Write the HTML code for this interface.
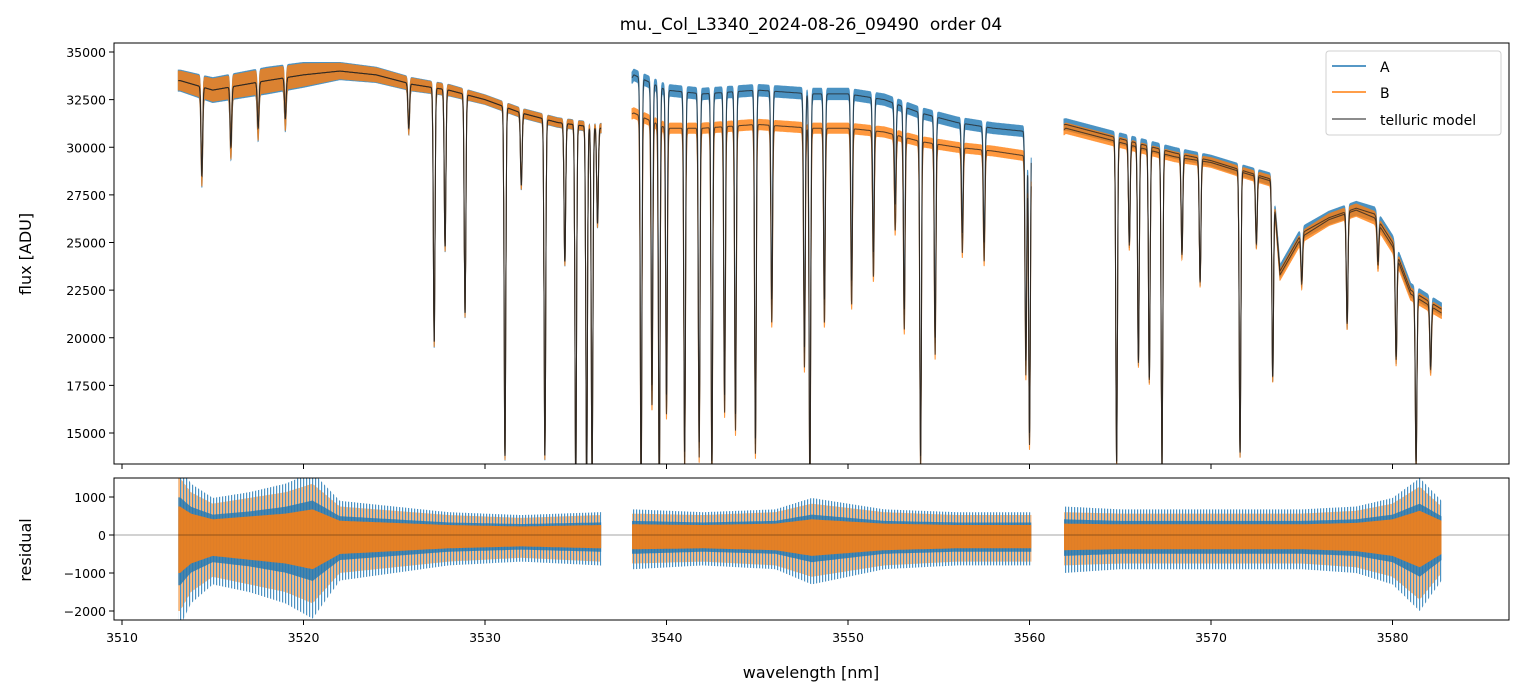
<!DOCTYPE html>
<html><head><meta charset="utf-8"><style>
body{margin:0;background:#fff;}
svg{display:block;font-family:"DejaVu Sans","Liberation Sans",sans-serif;}
</style></head><body>
<svg id="chart" width="1523" height="696" viewBox="0 0 1523 696">
<rect width="1523" height="696" fill="#fff"/>
<defs>
<clipPath id="ctop"><rect x="114" y="43" width="1395" height="421"/></clipPath>
<clipPath id="cbot"><rect x="114" y="478" width="1395" height="142"/></clipPath>
<pattern id="pa" width="3" height="4" patternUnits="userSpaceOnUse"><rect width="1.2" height="4" fill="#1f77b4"/></pattern>
<pattern id="pb" width="3" height="4" patternUnits="userSpaceOnUse"><rect x="1.5" width="1.2" height="4" fill="#ff7f0e"/></pattern>
</defs>
<text x="811" y="30" text-anchor="middle" font-size="17">mu._Col_L3340_2024-08-26_09490&#160; order 04</text>
<g id="topPanel" clip-path="url(#ctop)"></g>
<g id="botPanel" clip-path="url(#cbot)"></g>
<g id="axes"></g>
<text x="31" y="254" font-size="16" text-anchor="middle" transform="rotate(-90 31 254)">flux [ADU]</text>
<text x="31" y="550" font-size="16" text-anchor="middle" transform="rotate(-90 31 550)">residual</text>
<text x="811" y="678" font-size="16" text-anchor="middle">wavelength [nm]</text>
<g>
<rect x="1326" y="51" width="175" height="84" rx="3" fill="#fff" stroke="#ccc" opacity="0.9"/>
<line x1="1332" y1="66" x2="1366" y2="66" stroke="#1f77b4" stroke-width="1.5"/>
<text x="1380" y="72" font-size="14">A</text>
<line x1="1332" y1="92" x2="1366" y2="92" stroke="#ff7f0e" stroke-width="1.5"/>
<text x="1380" y="98" font-size="14">B</text>
<line x1="1332" y1="119" x2="1366" y2="119" stroke="#666" stroke-width="1.5"/>
<text x="1380" y="125" font-size="14">telluric model</text>
</g>
</svg>
<script>
const segments=[[3513.1,3536.4],[3538.1,3560.1],[3561.9,3582.7]];
const contWaveA=[3513.2,3515,3518,3520,3522,3524,3526,3528,3530,3532,3534,3536.4,3538.2,3540,3542,3545,3548,3550,3552,3554,3556,3558,3560.1,3562,3564,3566,3568,3570,3572,3573.4,3573.8,3575,3576.5,3578,3579,3580,3581,3582.7];
const contFluxA=[33500,33000,33500,33800,34000,33800,33300,33000,32500,31800,31300,31000,33800,33000,32800,33000,32800,32800,32500,31800,31300,31000,30800,31200,30700,30200,29700,29300,28700,28300,23500,25500,26300,26800,26500,25000,22500,21500];
const contFluxB=[33500,33000,33500,33800,34000,33800,33300,33000,32500,31800,31300,31000,31800,31000,31000,31200,31000,31000,30800,30300,30000,29800,29500,31000,30500,30000,29500,29200,28600,28200,23300,25300,26200,26700,26300,24800,22300,21300];
const lineWave=[3514.4,3516.0,3517.5,3519.0,3525.8,3527.2,3527.8,3528.9,3531.1,3532.0,3533.3,3534.4,3535.0,3535.6,3535.9,3536.2,3538.6,3539.2,3539.6,3540.0,3541.0,3541.8,3542.5,3543.2,3543.8,3544.9,3545.8,3547.6,3547.9,3548.7,3550.2,3551.4,3552.6,3553.1,3554.0,3554.8,3556.3,3557.5,3559.8,3560.0,3564.8,3565.5,3566.0,3566.6,3567.3,3568.4,3569.4,3571.6,3572.5,3573.4,3575.0,3577.5,3579.2,3580.2,3581.3,3582.1];
const lineMin=[28500,30000,31000,31500,31000,19800,24800,21300,13800,28000,13800,24000,12500,12500,12500,26000,12500,17500,12500,17000,14000,14500,13500,17000,16000,14700,22000,19500,12500,22000,23000,24500,27000,21500,13800,20000,25500,25000,18800,15000,13500,25000,18800,17900,13300,24500,23000,14000,25000,18000,23000,20800,24000,19000,13500,18500];
const noiseWave=[3513.2,3515,3518,3520,3522,3526,3530,3536.4,3538.2,3545,3550,3560.1,3561.9,3570,3575,3580,3582.7];
const noiseAmp=[550,650,700,650,450,350,250,250,300,300,300,280,300,280,320,380,320];
const resWave=[3513.2,3513.8,3515,3517,3519,3520.5,3522,3525,3528,3532,3536.3,3538.2,3542,3546,3548,3552,3556,3560.1,3561.9,3565,3570,3575,3578,3580,3581.5,3582.7];
const resAmpA=[2400,1800,1300,1500,1800,2200,1200,1000,800,700,800,900,800,900,1300,900,800,800,1000,900,900,900,1000,1300,2000,1200];
const resAmpB=[2000,1500,1100,1300,1500,1800,1000,850,700,600,700,750,700,800,1100,800,700,700,800,750,750,750,850,1100,1700,1000];
const xTicks=[3510,3520,3530,3540,3550,3560,3570,3580];
const yTicksTop=[15000,17500,20000,22500,25000,27500,30000,32500,35000];
const yTicksBot=[-2000,-1000,0,1000];

const NS='http://www.w3.org/2000/svg';
const X=w=>122+(w-3510)*18.15;
const YT=f=>52+(35000-f)*0.01905;
const YB=r=>535-r*0.038;
function interp(xs,ys,x){if(x<=xs[0])return ys[0];for(let i=1;i<xs.length;i++){if(x<=xs[i]){const t=(x-xs[i-1])/(xs[i]-xs[i-1]);return ys[i-1]+t*(ys[i]-ys[i-1]);}}return ys[ys.length-1];}
function model(w,cw,cf){const c=interp(cw,cf,w);let m=c;for(let i=0;i<lineWave.length;i++){const d=w-lineWave[i];if(Math.abs(d)<0.35){const depth=Math.max(0,1-lineMin[i]/interp(contWaveA,contFluxA,lineWave[i]));m*=(1-depth*Math.exp(-d*d/(2*0.045*0.045)));}}return m;}
function mk(tag,attrs,parent){const e=document.createElementNS(NS,tag);for(const k in attrs)e.setAttribute(k,attrs[k]);parent.appendChild(e);return e;}
const topG=document.getElementById('topPanel'),botG=document.getElementById('botPanel'),axG=document.getElementById('axes');
function specPath(cf){let d='';segments.forEach(s=>{let first=true;for(let w=s[0];w<=s[1];w+=0.006){d+=(first?'M':'L')+X(w).toFixed(1)+','+YT(model(w,contWaveA,cf)).toFixed(1);first=false;}});return d;}
function noiseBand(cf,scale){let d='';segments.forEach(s=>{const up=[],lo=[];for(let w=s[0];w<=s[1];w+=0.006){const m=model(w,contWaveA,cf);const a=interp(noiseWave,noiseAmp,w)*scale;up.push(X(w).toFixed(1)+','+YT(m+a).toFixed(1));lo.push(X(w).toFixed(1)+','+YT(m-a).toFixed(1));}d+='M'+up.join('L')+'L'+lo.reverse().join('L')+'Z';});return d;}
const pA=mk('path',{d:noiseBand(contFluxA,1),fill:'#1f77b4',stroke:'#1f77b4','stroke-width':1,opacity:0.8},topG);


const pB=mk('path',{d:noiseBand(contFluxB,0.9),fill:'#ff7f0e',stroke:'#ff7f0e','stroke-width':1,opacity:0.8},topG);


const mA=mk('path',{d:specPath(contFluxA),fill:'none',stroke:'#222','stroke-width':1,opacity:0.75},topG);


const mB=mk('path',{d:specPath(contFluxB),fill:'none',stroke:'#222','stroke-width':1,opacity:0.75},topG);


function band(amp,scale){let d='';segments.forEach(s=>{const up=[],lo=[];for(let w=s[0];w<=s[1];w+=0.1){const a=interp(resWave,amp,w)*scale;up.push(X(w).toFixed(1)+','+YB(a*0.75).toFixed(1));lo.push(X(w).toFixed(1)+','+YB(-a).toFixed(1));}d+='M'+up.join('L')+'L'+lo.reverse().join('L')+'Z';});return d;}
const rAo=mk('path',{d:band(resAmpA,1),fill:'url(#pa)',opacity:0.8},botG);


const rBo=mk('path',{d:band(resAmpB,1),fill:'url(#pb)',opacity:0.8},botG);


const rA=mk('path',{d:band(resAmpA,0.55),fill:'#1f77b4',opacity:0.8},botG);


const rB=mk('path',{d:band(resAmpB,0.5),fill:'#ff7f0e',opacity:0.85},botG);


mk('line',{x1:114,x2:1509,y1:YB(0),y2:YB(0),stroke:'#000','stroke-width':0.6,opacity:0.7},botG);
mk('rect',{x:114,y:43,width:1395,height:421,fill:'none',stroke:'#000','stroke-width':1},axG);
mk('rect',{x:114,y:478,width:1395,height:142,fill:'none',stroke:'#000','stroke-width':1},axG);
xTicks.forEach(t=>{const x=X(t);mk('line',{x1:x,x2:x,y1:464,y2:469,stroke:'#000'},axG);mk('line',{x1:x,x2:x,y1:620,y2:625,stroke:'#000'},axG);const tx=mk('text',{x:x,y:642,'font-size':12.5,'text-anchor':'middle'},axG);tx.textContent=t;

});
yTicksTop.forEach(t=>{const y=YT(t);mk('line',{x1:109,x2:114,y1:y,y2:y,stroke:'#000'},axG);const tx=mk('text',{x:106,y:y+5,'font-size':12.5,'text-anchor':'end'},axG);tx.textContent=t;

});
yTicksBot.forEach(t=>{const y=YB(t);mk('line',{x1:109,x2:114,y1:y,y2:y,stroke:'#000'},axG);const tx=mk('text',{x:106,y:y+5,'font-size':12.5,'text-anchor':'end'},axG);tx.textContent=t===0?'0':(t<0?'\u2212'+(-t):t);

});
</script>
</body></html>
